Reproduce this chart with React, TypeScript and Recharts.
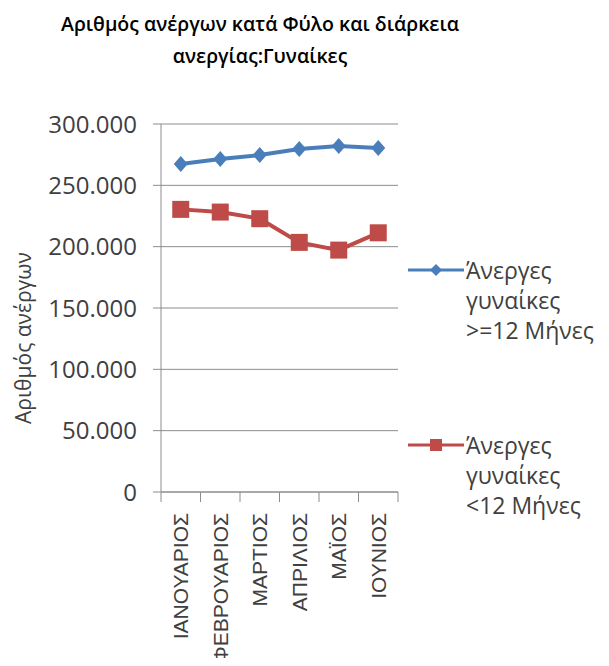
import { CartesianGrid, Line, LineChart, XAxis, YAxis } from 'recharts';

const months = ['ΙΑΝΟΥΑΡΙΟΣ', 'ΦΕΒΡΟΥΑΡΙΟΣ', 'ΜΑΡΤΙΟΣ', 'ΑΠΡΙΛΙΟΣ', 'ΜΑΪΟΣ', 'ΙΟΥΝΙΟΣ'];
const longTerm = [267400, 271500, 274700, 279600, 282000, 280400];
const shortTerm = [230400, 228200, 222800, 203500, 197200, 211300];
const yTicks = [0, 50000, 100000, 150000, 200000, 250000, 300000];

const seriesNames = {
  long: ['Άνεργες', 'γυναίκες', '>=12 Μήνες'],
  short: ['Άνεργες', 'γυναίκες', '<12 Μήνες'],
};

const BLUE = '#4A7EBB';
const RED = '#BE4B48';
const GRID = '#8c8c8c';
const TEXT = '#404040';
const FONT = '"Open Sans", sans-serif';
const BAND = 237 / months.length;

const data = months.map((m, i) => ({ month: m, long: longTerm[i], short: shortTerm[i] }));

const fmt = (v: number) => String(v).replace(/\B(?=(\d{3})+(?!\d))/g, '.');

const Diamond = ({ cx, cy }: any) => (
  <path d={`M${cx},${cy - 8} L${cx + 7},${cy} L${cx},${cy + 8} L${cx - 7},${cy} Z`} fill={BLUE} />
);

const Square = ({ cx, cy }: any) => <rect x={cx - 8.5} y={cy - 8.5} width={17} height={17} fill={RED} />;

const XTick = ({ x, y, payload, index }: any) => (
  <g>
    {index === 0 && <line x1={x - BAND / 2} x2={x - BAND / 2} y1={y} y2={y + 10} stroke={GRID} />}
    <line x1={x + BAND / 2} x2={x + BAND / 2} y1={y} y2={y + 10} stroke={GRID} />
    <text
      x={x}
      y={y + 21}
      transform={`rotate(-90, ${x}, ${y + 21})`}
      textAnchor="end"
      dominantBaseline="central"
      fontSize={21}
      fill={TEXT}
      fontFamily='"Liberation Sans", Arial, sans-serif'
    >
      {payload.value}
    </text>
  </g>
);

const LegendItem = ({ lines, color, top, marker }: { lines: string[]; color: string; top: number; marker: string }) => (
  <div style={{ position: 'absolute', left: 400, top, width: 209 }}>
    <svg width={60} height={20} style={{ position: 'absolute', left: 8, top: 5 }}>
      <line x1={0} x2={56} y1={10} y2={10} stroke={color} strokeWidth={3} />
      {marker === 'diamond' ? (
        <path d="M28,4 L34,10 L28,16 L22,10 Z" fill={color} />
      ) : (
        <rect x={22} y={4} width={12} height={12} fill={color} />
      )}
    </svg>
    <div style={{ position: 'absolute', left: 66, top: 0, fontSize: 23, lineHeight: '30px', color: TEXT, fontFamily: FONT, whiteSpace: 'nowrap' }}>
      {lines.map((l) => (
        <div key={l}>{l}</div>
      ))}
    </div>
  </div>
);

export default function App() {
  return (
    <div style={{ position: 'relative', width: 609, height: 666, margin: -8, background: '#fff' }}>
      <div
        style={{
          position: 'absolute',
          left: 0,
          top: 8,
          width: 520,
          textAlign: 'center',
          fontFamily: FONT,
          fontWeight: 600,
          fontSize: 19.5,
          lineHeight: '32px',
          color: '#000',
        }}
      >
        Αριθμός ανέργων κατά Φύλο και διάρκεια
        <br />
        ανεργίας:Γυναίκες
      </div>
      <LineChart width={609} height={666} data={data} margin={{ top: 124, right: 211, bottom: 0, left: 0 }}>
        <CartesianGrid horizontal vertical={false} stroke={GRID} />
        <XAxis
          dataKey="month"
          height={174}
          tickSize={0}
          tickMargin={0}
          interval={0}
          padding={{ left: BAND / 2, right: BAND / 2 }}
          axisLine={{ stroke: GRID }}
          tick={<XTick />}
        />
        <YAxis
          width={161}
          domain={[0, 300000]}
          ticks={yTicks}
          tickFormatter={fmt}
          tickSize={8}
          tickMargin={16}
          axisLine={{ stroke: GRID }}
          tickLine={{ stroke: GRID }}
          tick={{ fontSize: 24, fill: TEXT, fontFamily: FONT }}
          label={{
            content: () => (
              <text
                x={23}
                y={338}
                transform="rotate(-90, 23, 338)"
                textAnchor="middle"
                dominantBaseline="central"
                fontSize={21}
                fill={TEXT}
                fontFamily={FONT}
              >
                Αριθμός ανέργων
              </text>
            ),
          }}
        />
        <Line
          dataKey="long"
          name="Άνεργες γυναίκες >=12 Μήνες"
          stroke={BLUE}
          strokeWidth={4}
          dot={<Diamond />}
          activeDot={false}
          isAnimationActive={false}
        />
        <Line
          dataKey="short"
          name="Άνεργες γυναίκες <12 Μήνες"
          stroke={RED}
          strokeWidth={4}
          dot={<Square />}
          activeDot={false}
          isAnimationActive={false}
        />
      </LineChart>
      <LegendItem lines={seriesNames.long} color={BLUE} top={255} marker="diamond" />
      <LegendItem lines={seriesNames.short} color={RED} top={430} marker="square" />
    </div>
  );
}
